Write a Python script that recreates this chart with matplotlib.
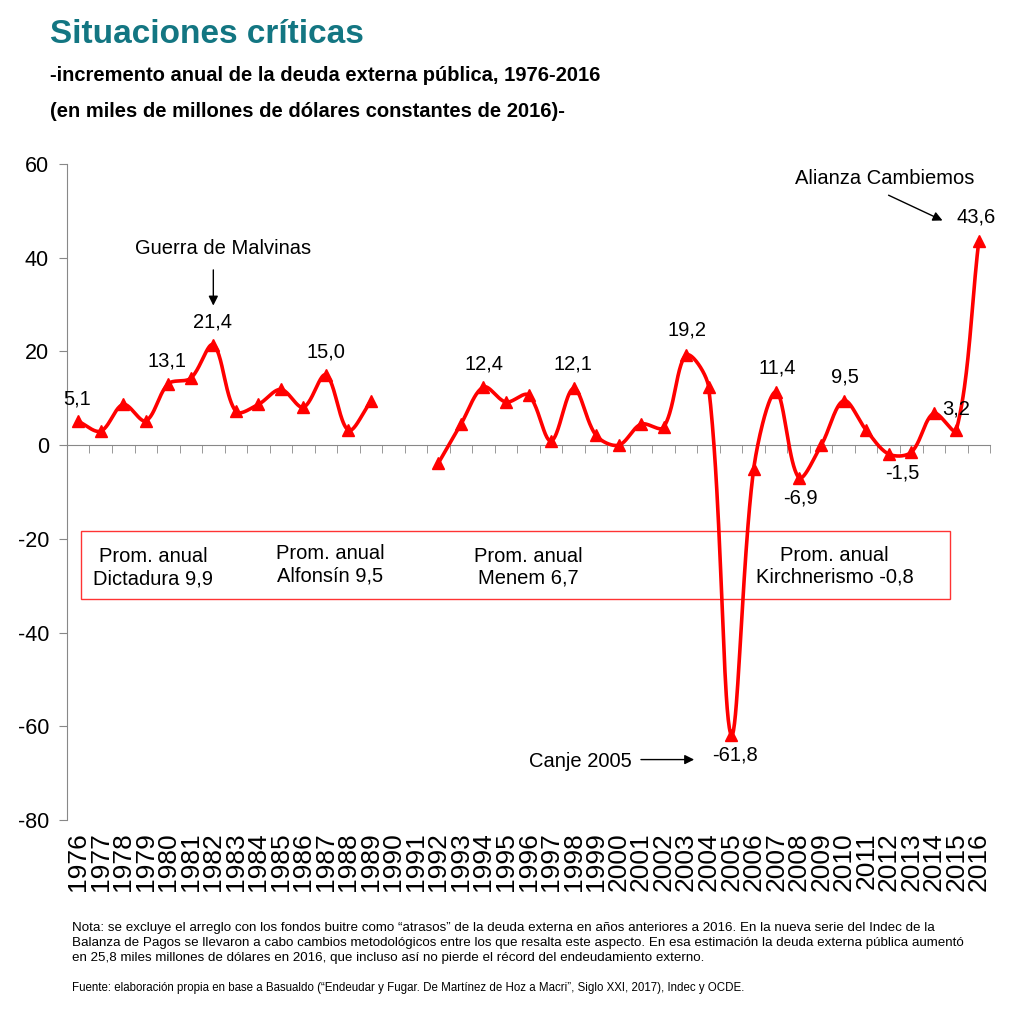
import numpy as np
import matplotlib
matplotlib.use("Agg")
import matplotlib.pyplot as plt
from matplotlib.patches import Rectangle

plt.rcParams['font.family'] = ['Liberation Sans', 'DejaVu Sans']
plt.rcParams['axes.unicode_minus'] = False

# datos
years = list(range(1976, 2017))
valores_dictadura_alfonsin = [5.1, 3.0, 8.7, 5.2, 13.1, 14.3, 21.4, 7.2, 8.7, 11.9, 8.1, 15.0, 3.2, 9.4]  # 1976-1989
valores_menem_macri = [-3.8, 4.5, 12.4, 9.2, 10.7, 0.9, 12.1, 2.1, 0.0, 4.5, 3.8, 19.2, 12.4, -61.8,
                       -5.1, 11.4, -6.9, 0.0, 9.5, 3.2, -1.9, -1.5, 6.8, 3.2, 43.6]  # 1992-2016
anios_tramo1 = list(range(1976, 1990))
anios_tramo2 = list(range(1992, 2017))

etiquetas = ["5,1", "13,1", "21,4", "15,0", "12,4", "12,1", "19,2", "11,4", "9,5", "3,2", "-1,5", "-6,9", "43,6", "-61,8"]
etiq_pos = [(-0.07, 9.8), (3.94, 18.0), (5.97, 26.3), (10.99, 19.9), (18.03, 17.4), (21.98, 17.4),
            (27.04, 24.5), (31.03, 16.4), (34.04, 14.6), (39.0, 7.8), (36.6, -6.0), (32.07, -11.2),
            (39.88, 48.7), (29.17, -66.2)]

promedios = ["Prom. anual\nDictadura 9,9", "Prom. anual\nAlfonsín 9,5",
             "Prom. anual\nMenem 6,7", "Prom. anual\nKirchnerismo -0,8"]
prom_pos = [(3.33, -26.2), (11.18, -25.5), (19.98, -26.0), (33.6, -25.8)]


def suavizar(x, y, n=40, escala_x=4.8):
    # curva Bezier al estilo de la "línea suavizada" de Excel:
    # los brazos de control se reparten según la longitud de cada tramo
    p = np.column_stack([x, y]).astype(float)
    m = len(p)
    q = p.copy()
    q[:, 0] *= escala_x
    d = np.hypot(*np.diff(q, axis=0).T)
    out = []
    for i in range(m - 1):
        p1, p2 = p[i], p[i + 1]
        if i == 0:
            t1 = (p2 - p1) / 3
        else:
            t1 = (p2 - p[i - 1]) / 3 * d[i] / (d[i - 1] + d[i])
        if i + 2 >= m:
            t2 = (p2 - p1) / 3
        else:
            t2 = (p[i + 2] - p1) / 3 * d[i] / (d[i] + d[i + 1])
        c1 = p1 + t1
        c2 = p2 - t2
        t = np.linspace(0, 1, n)[:, None]
        seg = ((1 - t) ** 3) * p1 + 3 * ((1 - t) ** 2) * t * c1 + 3 * (1 - t) * t ** 2 * c2 + t ** 3 * p2
        out.append(seg)
    out = np.vstack(out)
    return out[:, 0], out[:, 1]


fig = plt.figure(figsize=(10.21, 10.24), dpi=100)
ax = fig.add_axes([0.0656, 0.1992, 0.9041, 0.6406])

rojo = '#FF0000'
for anios, vals in [(anios_tramo1, valores_dictadura_alfonsin), (anios_tramo2, valores_menem_macri)]:
    idx = [years.index(a) for a in anios]
    sx, sy = suavizar(idx, vals)
    ax.plot(sx, sy, color=rojo, lw=2.6, solid_capstyle='round', zorder=3)
    ax.plot(idx, vals, ls='none', marker='^', ms=8, color=rojo, zorder=4)

ax.set_xlim(-0.5, 40.5)
ax.set_ylim(-80, 60)
ax.set_yticks(range(-80, 61, 20))
ax.tick_params(axis='y', direction='out', length=6, color='#888888', labelsize=15.5, pad=7)

for s in ['top', 'right']:
    ax.spines[s].set_visible(False)
ax.spines['left'].set_color('#888888')
ax.spines['bottom'].set_position(('data', 0))
ax.spines['bottom'].set_color('#888888')
ax.set_xticks([])
ax.set_xticks(np.arange(0.5, 41, 1), minor=True)
ax.tick_params(axis='x', which='minor', direction='out', length=6, color='#888888', labelbottom=False)

sec = ax.secondary_xaxis(0)
sec.spines['bottom'].set_visible(False)
sec.set_xticks(range(len(years)))
sec.set_xticklabels([str(a) for a in years], rotation=90, fontsize=19)
sec.tick_params(axis='x', length=0, pad=9)

for txt, (x, y) in zip(etiquetas, etiq_pos):
    ax.text(x, y, txt, ha='center', va='center', fontsize=14.5, zorder=5)

ax.add_patch(Rectangle((0.12, -32.9), 38.58, 14.55, fill=False, edgecolor='#FF3333', lw=1.0, zorder=2))
for txt, (x, y) in zip(promedios, prom_pos):
    ax.text(x, y, txt, ha='center', va='center', fontsize=14.5, linespacing=1.2)

# anotaciones con flechas
flecha = dict(arrowstyle='-|>', color='black', lw=1, mutation_scale=14)
ax.text(6.45, 42.0, "Guerra de Malvinas", ha='center', va='center', fontsize=14.5)
ax.annotate("", xy=(6.0, 29.2), xytext=(6.0, 38.0), arrowprops=flecha)
ax.text(35.84, 56.9, "Alianza Cambiemos", ha='center', va='center', fontsize=14.5)
ax.annotate("", xy=(38.5, 47.7), xytext=(35.88, 53.6), arrowprops=flecha)
ax.text(22.29, -67.6, "Canje 2005", ha='center', va='center', fontsize=14.5)
ax.annotate("", xy=(27.48, -67.1), xytext=(24.87, -67.1), arrowprops=flecha)

# títulos
fig.text(0.049, 0.966, "Situaciones críticas", fontsize=24, fontweight='bold', color='#137682', va='center')
fig.text(0.049, 0.926, "-incremento anual de la deuda externa pública, 1976-2016", fontsize=14.5,
         fontweight='bold', va='center')
fig.text(0.049, 0.891, "(en miles de millones de dólares constantes de 2016)-", fontsize=14.5,
         fontweight='bold', va='center')

nota = ("Nota: se excluye el arreglo con los fondos buitre como \u201catrasos\u201d de la deuda externa en años anteriores a 2016. "
        "En la nueva serie del Indec de la\n"
        "Balanza de Pagos se llevaron a cabo cambios metodológicos entre los que resalta este aspecto. "
        "En esa estimación la deuda externa pública aumentó\n"
        "en 25,8 miles millones de dólares en 2016, que incluso así no pierde el récord del endeudamiento externo.")
fig.text(0.0705, 0.079, nota, fontsize=9.6, va='center', linespacing=1.3)
fig.text(0.0705, 0.035, "Fuente: elaboración propia en base a Basualdo (\u201cEndeudar y Fugar. De Martínez de Hoz a Macri\u201d, "
         "Siglo XXI, 2017), Indec y OCDE.", fontsize=8.3, va='center')

fig.savefig("out.png", dpi=100)
